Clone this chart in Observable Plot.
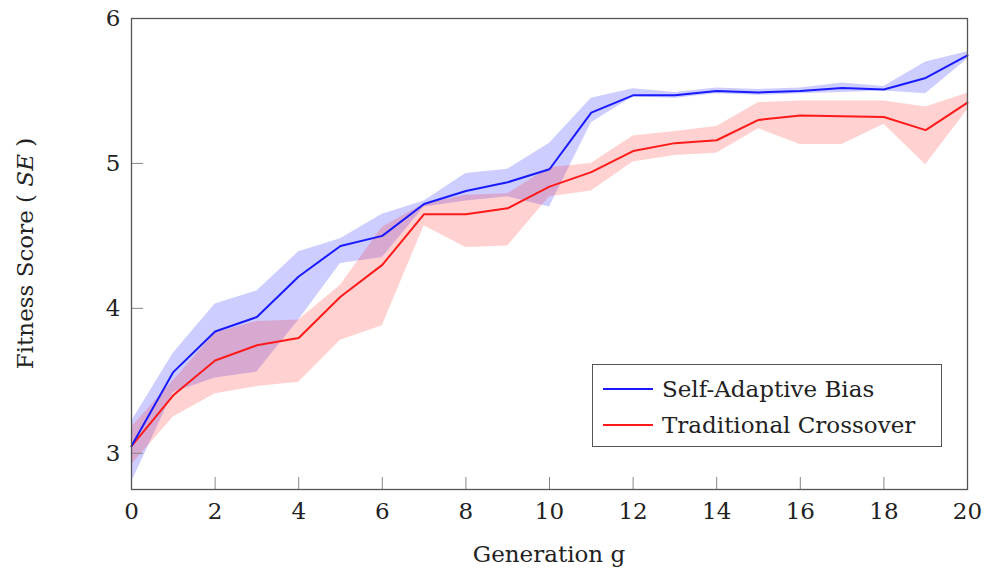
<!DOCTYPE html>
<html>
<head>
<meta charset="utf-8">
<script src="https://cdn.jsdelivr.net/npm/d3@7"></script>
<script src="https://cdn.jsdelivr.net/npm/@observablehq/plot@0.6"></script>
<style>
  html, body { margin: 0; padding: 0; background: #fff; }
  #wrap { position: relative; width: 984px; height: 568px; font-family: "DejaVu Serif", serif; }
  #legend { position: absolute; left: 592px; top: 364px; width: 348px; height: 81px;
            border: 1.3px solid #555; background: #fff; box-sizing: content-box; }
  .item { position: absolute; left: 10px; height: 30px; display: flex; align-items: center; }
  .item span { font-size: 23px; color: #222; margin-left: 9px; }
</style>
</head>
<body>
<div id="wrap"></div>
<script>
const generations = [0,1,2,3,4,5,6,7,8,9,10,11,12,13,14,15,16,17,18,19,20];

const blueMean  = [3.05,3.56,3.84,3.94,4.22,4.43,4.50,4.72,4.81,4.87,4.96,5.35,5.47,5.47,5.50,5.49,5.50,5.52,5.51,5.59,5.745];
const blueUpper = [3.22,3.69,4.03,4.12,4.39,4.48,4.65,4.74,4.93,4.96,5.14,5.45,5.515,5.49,5.52,5.51,5.52,5.555,5.53,5.70,5.77];
const blueLower = [2.80,3.42,3.52,3.56,3.92,4.31,4.35,4.70,4.74,4.77,4.70,5.28,5.46,5.45,5.48,5.47,5.48,5.49,5.50,5.48,5.72];

const redMean  = [3.05,3.40,3.64,3.745,3.795,4.08,4.30,4.65,4.65,4.69,4.84,4.94,5.085,5.14,5.16,5.30,5.33,5.325,5.32,5.23,5.42];
const redUpper = [3.18,3.50,3.83,3.91,3.92,4.16,4.56,4.72,4.78,4.79,4.97,5.00,5.19,5.22,5.255,5.42,5.43,5.43,5.43,5.39,5.485];
const redLower = [2.92,3.25,3.41,3.46,3.49,3.78,3.88,4.57,4.42,4.43,4.77,4.81,5.01,5.055,5.07,5.24,5.13,5.13,5.27,4.99,5.37];

const seriesNames = ["Self-Adaptive Bias", "Traditional Crossover"];
const seriesColors = ["#1a1aff", "#ff1a1a"];

const xTicks = [0,2,4,6,8,10,12,14,16,18,20];
const yTicks = [3,4,5,6];

const xLabel = "Generation g";
const yLabelParts = [["Fitness Score ( ", false], ["SE", true], [" )", false]];

const blueData = generations.map((g, i) => ({g, mean: blueMean[i], lo: blueLower[i], hi: blueUpper[i]}));
const redData  = generations.map((g, i) => ({g, mean: redMean[i], lo: redLower[i], hi: redUpper[i]}));

const chart = Plot.plot({
  width: 984,
  height: 568,
  marginLeft: 131,
  marginRight: 17,
  marginTop: 18,
  marginBottom: 79,
  style: { fontFamily: "DejaVu Serif, serif", fontSize: "23px", background: "#fff", color: "#222" },
  x: { domain: [0, 20] },
  y: { domain: [2.75, 6] },
  marks: [
    Plot.areaY(blueData, { x: "g", y1: "lo", y2: "hi", fill: seriesColors[0], fillOpacity: 0.22 }),
    Plot.areaY(redData,  { x: "g", y1: "lo", y2: "hi", fill: seriesColors[1], fillOpacity: 0.2 }),
    Plot.lineY(redData,  { x: "g", y: "mean", stroke: seriesColors[1], strokeWidth: 2 }),
    Plot.lineY(blueData, { x: "g", y: "mean", stroke: seriesColors[0], strokeWidth: 2 }),
    Plot.axisX({ ticks: xTicks, tickSize: -12, tickPadding: 25, label: null, stroke: "#888", fill: "#222", tickFormat: d => String(d) }),
    Plot.axisY({ ticks: yTicks, tickSize: -12, tickPadding: 23, label: null, stroke: "#888", fill: "#222", tickFormat: d => String(d) }),
    Plot.frame({ stroke: "#555", strokeWidth: 1.3 })
  ]
});

document.getElementById("wrap").appendChild(chart);

const svg = d3.select(chart);
svg.append("text")
  .attr("x", (131 + 967) / 2)
  .attr("y", 562)
  .attr("text-anchor", "middle")
  .attr("font-size", 23)
  .attr("fill", "#222")
  .text(xLabel);

const yl = svg.append("text")
  .attr("transform", `translate(33, ${(18 + 489) / 2}) rotate(-90)`)
  .attr("text-anchor", "middle")
  .attr("font-size", 23)
  .attr("fill", "#222");
yLabelParts.forEach(([t, it]) => {
  yl.append("tspan").attr("font-style", it ? "italic" : "normal").text(t);
});

// legend
const legend = document.createElement("div");
legend.id = "legend";
seriesNames.forEach((name, i) => {
  const item = document.createElement("div");
  item.className = "item";
  item.style.top = (9 + i * 36) + "px";
  item.innerHTML = `<svg width="50" height="4"><line x1="0" x2="50" y1="2" y2="2" stroke="${seriesColors[i]}" stroke-width="2.2"/></svg><span>${name}</span>`;
  legend.appendChild(item);
});
document.getElementById("wrap").appendChild(legend);
</script>
</body>
</html>
